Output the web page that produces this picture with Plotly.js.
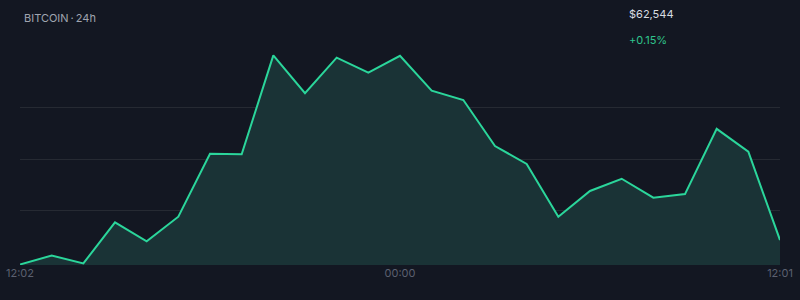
<!DOCTYPE html>
<html>
<head>
<meta charset="utf-8">
<script src="https://cdn.plot.ly/plotly-3.0.1.min.js"></script>
<style>
html,body{margin:0;padding:0;background:#131722;}
#chart{width:800px;height:300px;}
</style>
</head>
<body>
<div id="chart"></div>
<script>
// Hourly BTC price over 24h
var prices = [62444, 62478, 62448, 62606, 62533, 62628, 62870, 62868, 63249, 63103,
              63240, 63182, 63247, 63113, 63077, 62900, 62831, 62628, 62727, 62774,
              62701, 62715, 62966, 62878, 62538];
var tickPositions = [0, 12, 24];
var tickLabels = ["12:02", "00:00", "12:01"];
var titleText = "BITCOIN\u2009·\u200924h";
var priceText = "$62,544";
var changeText = "+0.15%";

var xs = prices.map(function(_, i){ return i; });

var trace = {
  x: xs,
  y: prices,
  type: 'scatter',
  mode: 'lines',
  line: {color: '#2bd69b', width: 2},
  fill: 'tozeroy',
  fillcolor: '#1a3336',
  hoverinfo: 'skip'
};

var layout = {
  width: 800,
  height: 300,
  paper_bgcolor: '#131722',
  plot_bgcolor: '#131722',
  margin: {l: 20, r: 20, t: 40, b: 35},
  showlegend: false,
  font: {family: 'Inter, Roboto, sans-serif', color: '#9aa0ab'},
  xaxis: {
    range: [0, 24],
    tickvals: tickPositions,
    ticktext: tickLabels,
    showgrid: false,
    zeroline: false,
    showline: false,
    ticks: '',
    tickfont: {size: 11, color: '#5b6070'},
    fixedrange: true
  },
  yaxis: {
    range: [62442, 63308],
    tickvals: [62650, 62850, 63050],
    showticklabels: false,
    gridcolor: '#262a33',
    gridwidth: 1,
    zeroline: false,
    showline: false,
    fixedrange: true
  },
  annotations: [
    {xref: 'paper', yref: 'paper', x: 0.003, y: 1, yshift: 22, xanchor: 'left', yanchor: 'middle',
     text: titleText, showarrow: false, font: {size: 11, color: '#a0a5b0'}},
    {xref: 'paper', yref: 'paper', x: (627 - 20) / 760, y: 1, yshift: 26, xanchor: 'left', yanchor: 'middle',
     text: priceText, showarrow: false, font: {size: 11, color: '#d9dce2'}},
    {xref: 'paper', yref: 'paper', x: (627 - 20) / 760, y: 1, yshift: 0, xanchor: 'left', yanchor: 'middle',
     text: changeText, showarrow: false, font: {size: 11, color: '#2fc48d'}}
  ]
};

Plotly.newPlot('chart', [trace], layout, {displayModeBar: false, staticPlot: true});
</script>
</body>
</html>
